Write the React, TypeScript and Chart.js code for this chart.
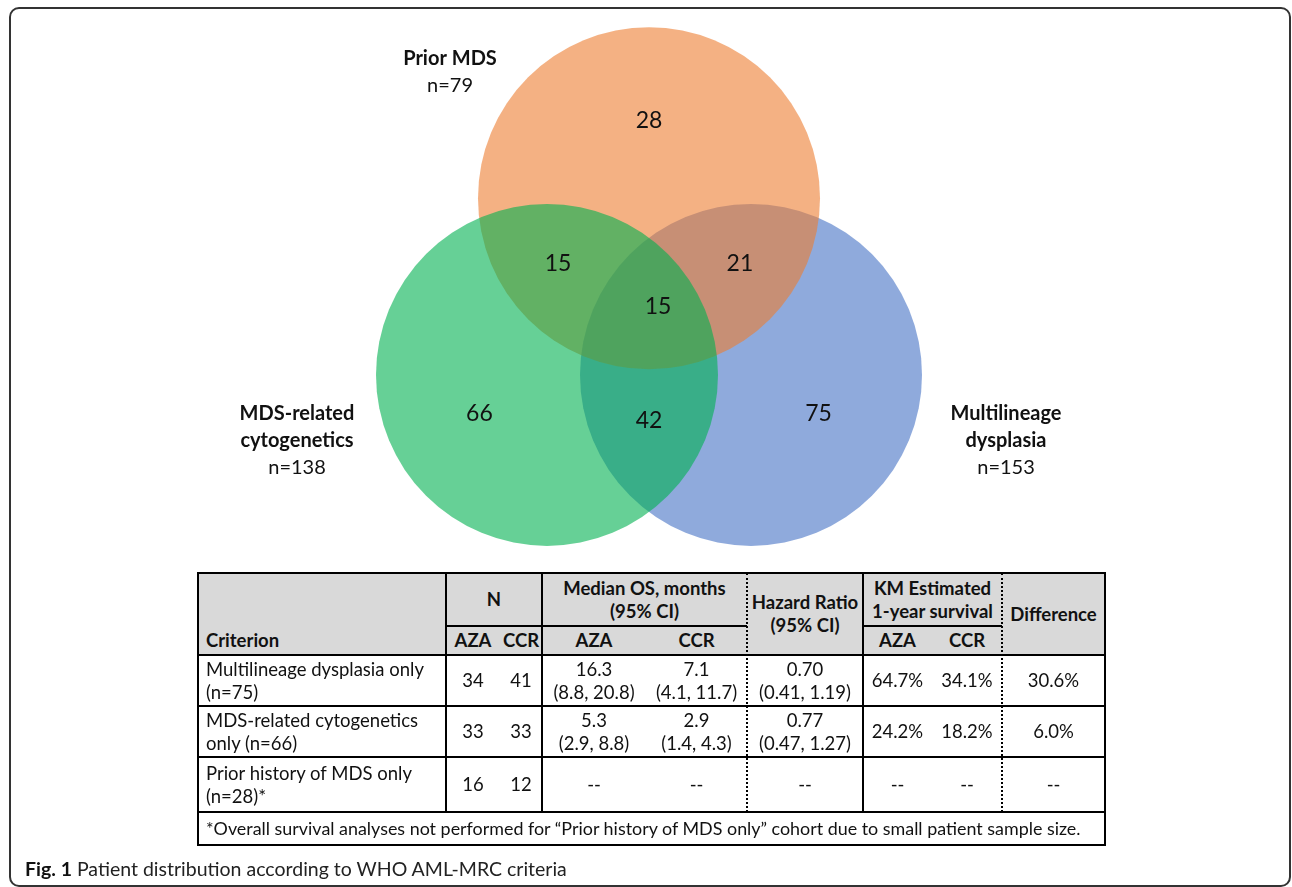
import React, { useEffect, useRef } from "react";
import { Chart, registerables } from "chart.js";
Chart.register(...registerables);

const PAGE_W = 1292;
const PAGE_H = 887;
const FONT = "Lato, 'Liberation Sans', sans-serif";

// ---------- Venn data ----------
const setTitles = [["Prior MDS"], ["MDS-related", "cytogenetics"], ["Multilineage", "dysplasia"]];
const setTotals = [79, 138, 153];
const setColors = ["rgba(237,125,49,0.6)", "rgba(0,176,80,0.6)", "rgba(68,114,196,0.6)"];
const setDrawOrder = [1, 0, 2]; // lower value is drawn on top
const onlyCounts = [28, 66, 75]; // prior only, cytogenetics only, multilineage only
const pairMembers = [[0, 1], [0, 2], [1, 2]];
const pairCounts = [15, 21, 42];
const tripleCount = 15;

// ---------- Table data ----------
const criteria = [
  ["Multilineage dysplasia only", "(n=75)"],
  ["MDS-related cytogenetics", "only (n=66)"],
  ["Prior history of MDS only", "(n=28)*"],
];
const nAZA = ["34", "33", "16"];
const nCCR = ["41", "33", "12"];
const osAZA = [["16.3", "(8.8, 20.8)"], ["5.3", "(2.9, 8.8)"], ["--"]];
const osCCR = [["7.1", "(4.1, 11.7)"], ["2.9", "(1.4, 4.3)"], ["--"]];
const hazard = [["0.70", "(0.41, 1.19)"], ["0.77", "(0.47, 1.27)"], ["--"]];
const kmAZA = ["64.7%", "24.2%", "--"];
const kmCCR = ["34.1%", "18.2%", "--"];
const diffs = ["30.6%", "6.0%", "--"];
const footnote =
  "*Overall survival analyses not performed for \u201cPrior history of MDS only\u201d cohort due to small patient sample size.";
const captionBold = "Fig. 1";
const captionText = " Patient distribution according to WHO AML-MRC criteria";

// ---------- Layout (not data) ----------
const VENN = { cx: 649, cy: 316, r: 171, d: 204, uniqueOff: 78, pairOff: 105 };
const titleOffsets = [
  { dx: -199, dy: -126 },
  { dx: -250, dy: 66 },
  { dx: 255, dy: 66 },
];
const colX = [198, 446, 500, 542, 646, 747, 863, 932, 1002, 1105];
const rowY = [573, 626, 655, 706, 757, 812, 845];

function vennCenters() {
  const { cx, cy, d } = VENN;
  const h = d / Math.sqrt(3);
  return [
    { x: cx, y: cy - h },
    { x: cx - d / 2, y: cy + h / 2 },
    { x: cx + d / 2, y: cy + h / 2 },
  ];
}

function unit(dx: number, dy: number) {
  const l = Math.hypot(dx, dy) || 1;
  return { x: dx / l, y: dy / l };
}

function regionLabels() {
  const c = vennCenters();
  const g = { x: VENN.cx, y: VENN.cy };
  const out: { x: number; y: number; text: string }[] = [];
  onlyCounts.forEach((v, i) => {
    const u = unit(c[i].x - g.x, c[i].y - g.y);
    out.push({ x: c[i].x + u.x * VENN.uniqueOff, y: c[i].y + u.y * VENN.uniqueOff, text: String(v) });
  });
  pairMembers.forEach((m, k) => {
    const third = [0, 1, 2].find((i) => !m.includes(i)) as number;
    const u = unit(g.x - c[third].x, g.y - c[third].y);
    out.push({ x: g.x + u.x * VENN.pairOff, y: g.y + u.y * VENN.pairOff, text: String(pairCounts[k]) });
  });
  out.push({ x: g.x + 9, y: g.y - 9, text: String(tripleCount) });
  return out;
}

const vennLabelPlugin = {
  id: "vennLabels",
  afterDatasetsDraw(chart: any) {
    const { ctx } = chart;
    const sx = chart.scales.x;
    const sy = chart.scales.y;
    ctx.save();
    ctx.fillStyle = "#111";
    ctx.textAlign = "center";
    ctx.textBaseline = "middle";
    ctx.font = `23px ${FONT}`;
    regionLabels().forEach((l) => {
      ctx.fillText(l.text, sx.getPixelForValue(l.x), sy.getPixelForValue(l.y));
    });
    const c = vennCenters();
    const lh = 27;
    setTitles.forEach((lines, i) => {
      const all = [...lines, `n=${setTotals[i]}`];
      const bx = c[i].x + titleOffsets[i].dx;
      const by = c[i].y + titleOffsets[i].dy;
      all.forEach((t, j) => {
        const yy = by + (j - (all.length - 1) / 2) * lh;
        ctx.font = j < lines.length ? `bold 20px ${FONT}` : `20px ${FONT}`;
        ctx.fillText(t, sx.getPixelForValue(bx), sy.getPixelForValue(yy));
      });
    });
    ctx.restore();
  },
};

function VennChart() {
  const ref = useRef<HTMLCanvasElement>(null);
  useEffect(() => {
    if (!ref.current) return;
    const c = vennCenters();
    const chart = new Chart(ref.current, {
      type: "bubble",
      data: {
        datasets: setTitles.map((t, i) => ({
          label: t.join(" "),
          data: [{ x: c[i].x, y: c[i].y, r: VENN.r }],
          backgroundColor: setColors[i],
          borderWidth: 0,
          order: setDrawOrder[i],
          clip: false,
        })),
      },
      options: {
        animation: false,
        responsive: false,
        events: [],
        layout: { padding: 0, autoPadding: false },
        plugins: { legend: { display: false }, tooltip: { enabled: false } },
        scales: {
          x: { type: "linear", min: 0, max: PAGE_W, display: false },
          y: { type: "linear", min: 0, max: PAGE_H, reverse: true, display: false },
        },
      },
      plugins: [vennLabelPlugin],
    } as any);
    return () => chart.destroy();
  }, []);
  return (
    <canvas
      ref={ref}
      width={PAGE_W}
      height={PAGE_H}
      style={{ position: "absolute", left: 0, top: 0, width: PAGE_W, height: PAGE_H }}
    />
  );
}

type BoxProps = {
  x0: number; x1: number; y0: number; y1: number;
  lines: string[]; bold?: boolean; align?: "left" | "center"; valign?: "center" | "end"; size?: number;
};
function Box({ x0, x1, y0, y1, lines, bold, align = "center", valign = "center", size = 18.5 }: BoxProps) {
  return (
    <div
      style={{
        position: "absolute", left: x0, top: y0, width: x1 - x0, height: y1 - y0,
        display: "flex", flexDirection: "column",
        justifyContent: valign === "center" ? "center" : "flex-end",
        alignItems: align === "center" ? "center" : "flex-start",
        paddingLeft: align === "left" ? 8 : 0, paddingBottom: valign === "end" ? 3 : 0,
        boxSizing: "border-box",
        fontWeight: bold ? 700 : 400, fontSize: size, lineHeight: "23px", color: "#111",
        whiteSpace: "nowrap",
      }}
    >
      {lines.map((l, i) => (<div key={i}>{l}</div>))}
    </div>
  );
}

function HLine({ x0, x1, y, w = 2 }: { x0: number; x1: number; y: number; w?: number }) {
  return <div style={{ position: "absolute", left: x0, top: y - w / 2, width: x1 - x0, height: w, background: "#000" }} />;
}
function VLine({ x, y0, y1, w = 2, dotted = false }: { x: number; y0: number; y1: number; w?: number; dotted?: boolean }) {
  return (
    <div
      style={{
        position: "absolute", left: x - w / 2, top: y0, width: 0, height: y1 - y0,
        borderLeft: `${w}px ${dotted ? "dotted" : "solid"} #000`,
      }}
    />
  );
}

function Table() {
  const X = colX, Y = rowY;
  const cells: any[] = [];
  cells.push(<div key="bg" style={{ position: "absolute", left: X[0], top: Y[0], width: X[9] - X[0], height: Y[2] - Y[0], background: "#D9D9D9" }} />);
  cells.push(<Box key="crit" x0={X[0]} x1={X[1]} y0={Y[0]} y1={Y[2]} lines={["Criterion"]} bold align="left" valign="end" />);
  cells.push(<Box key="n" x0={X[1]} x1={X[3]} y0={Y[0]} y1={Y[1]} lines={["N"]} bold />);
  cells.push(<Box key="os" x0={X[3]} x1={X[5]} y0={Y[0]} y1={Y[1]} lines={["Median OS, months", "(95% CI)"]} bold />);
  cells.push(<Box key="hr" x0={X[5]} x1={X[6]} y0={Y[0]} y1={Y[2]} lines={["Hazard Ratio", "(95% CI)"]} bold />);
  cells.push(<Box key="km" x0={X[6]} x1={X[8]} y0={Y[0]} y1={Y[1]} lines={["KM Estimated", "1-year survival"]} bold />);
  cells.push(<Box key="df" x0={X[8]} x1={X[9]} y0={Y[0]} y1={Y[2]} lines={["Difference"]} bold />);
  const subs = [[1, 2, "AZA"], [2, 3, "CCR"], [3, 4, "AZA"], [4, 5, "CCR"], [6, 7, "AZA"], [7, 8, "CCR"]] as const;
  subs.forEach(([a, b, t], i) => cells.push(<Box key={"s" + i} x0={X[a]} x1={X[b]} y0={Y[1]} y1={Y[2]} lines={[t]} bold />));
  criteria.forEach((cr, r) => {
    const y0 = Y[2 + r], y1 = Y[3 + r];
    cells.push(<Box key={"c" + r} x0={X[0]} x1={X[1]} y0={y0} y1={y1} lines={cr} align="left" />);
    cells.push(<Box key={"na" + r} x0={X[1]} x1={X[2]} y0={y0} y1={y1} lines={[nAZA[r]]} />);
    cells.push(<Box key={"nc" + r} x0={X[2]} x1={X[3]} y0={y0} y1={y1} lines={[nCCR[r]]} />);
    cells.push(<Box key={"oa" + r} x0={X[3]} x1={X[4]} y0={y0} y1={y1} lines={osAZA[r]} />);
    cells.push(<Box key={"oc" + r} x0={X[4]} x1={X[5]} y0={y0} y1={y1} lines={osCCR[r]} />);
    cells.push(<Box key={"h" + r} x0={X[5]} x1={X[6]} y0={y0} y1={y1} lines={hazard[r]} />);
    cells.push(<Box key={"ka" + r} x0={X[6]} x1={X[7]} y0={y0} y1={y1} lines={[kmAZA[r]]} />);
    cells.push(<Box key={"kc" + r} x0={X[7]} x1={X[8]} y0={y0} y1={y1} lines={[kmCCR[r]]} />);
    cells.push(<Box key={"d" + r} x0={X[8]} x1={X[9]} y0={y0} y1={y1} lines={[diffs[r]]} />);
  });
  cells.push(<Box key="fn" x0={X[0]} x1={X[9]} y0={Y[5]} y1={Y[6]} lines={[footnote]} align="left" size={17.9} />);
  // lines
  cells.push(<HLine key="l1a" x0={X[1]} x1={X[5]} y={Y[1]} />);
  cells.push(<HLine key="l1b" x0={X[6]} x1={X[8]} y={Y[1]} />);
  [2, 3, 4, 5].forEach((i) => cells.push(<HLine key={"hl" + i} x0={X[0]} x1={X[9]} y={Y[i]} />));
  [1, 3, 6].forEach((i) => cells.push(<VLine key={"vl" + i} x={X[i]} y0={Y[0]} y1={Y[5]} />));
  [5, 8].forEach((i) => cells.push(<VLine key={"vd" + i} x={X[i]} y0={Y[0]} y1={Y[5]} dotted />));
  cells.push(
    <div key="outer" style={{ position: "absolute", left: X[0] - 1, top: Y[0] - 1, width: X[9] - X[0] + 2, height: Y[6] - Y[0] + 2, border: "2px solid #000", boxSizing: "border-box" }} />
  );
  return <>{cells}</>;
}

export default function App() {
  return (
    <div style={{ position: "fixed", left: 0, top: 0, width: PAGE_W, height: PAGE_H, background: "#fff", fontFamily: FONT, overflow: "hidden" }}>
      <VennChart />
      <Table />
      <div style={{ position: "absolute", left: 25, top: 856, fontSize: 19.5, lineHeight: "26px", color: "#222", whiteSpace: "nowrap" }}>
        <b style={{ color: "#111" }}>{captionBold}</b>{captionText}
      </div>
      <div style={{ position: "absolute", left: 9, top: 7, width: 1282, height: 880, border: "2px solid #333", borderRadius: 10, boxSizing: "border-box", pointerEvents: "none" }} />
    </div>
  );
}
